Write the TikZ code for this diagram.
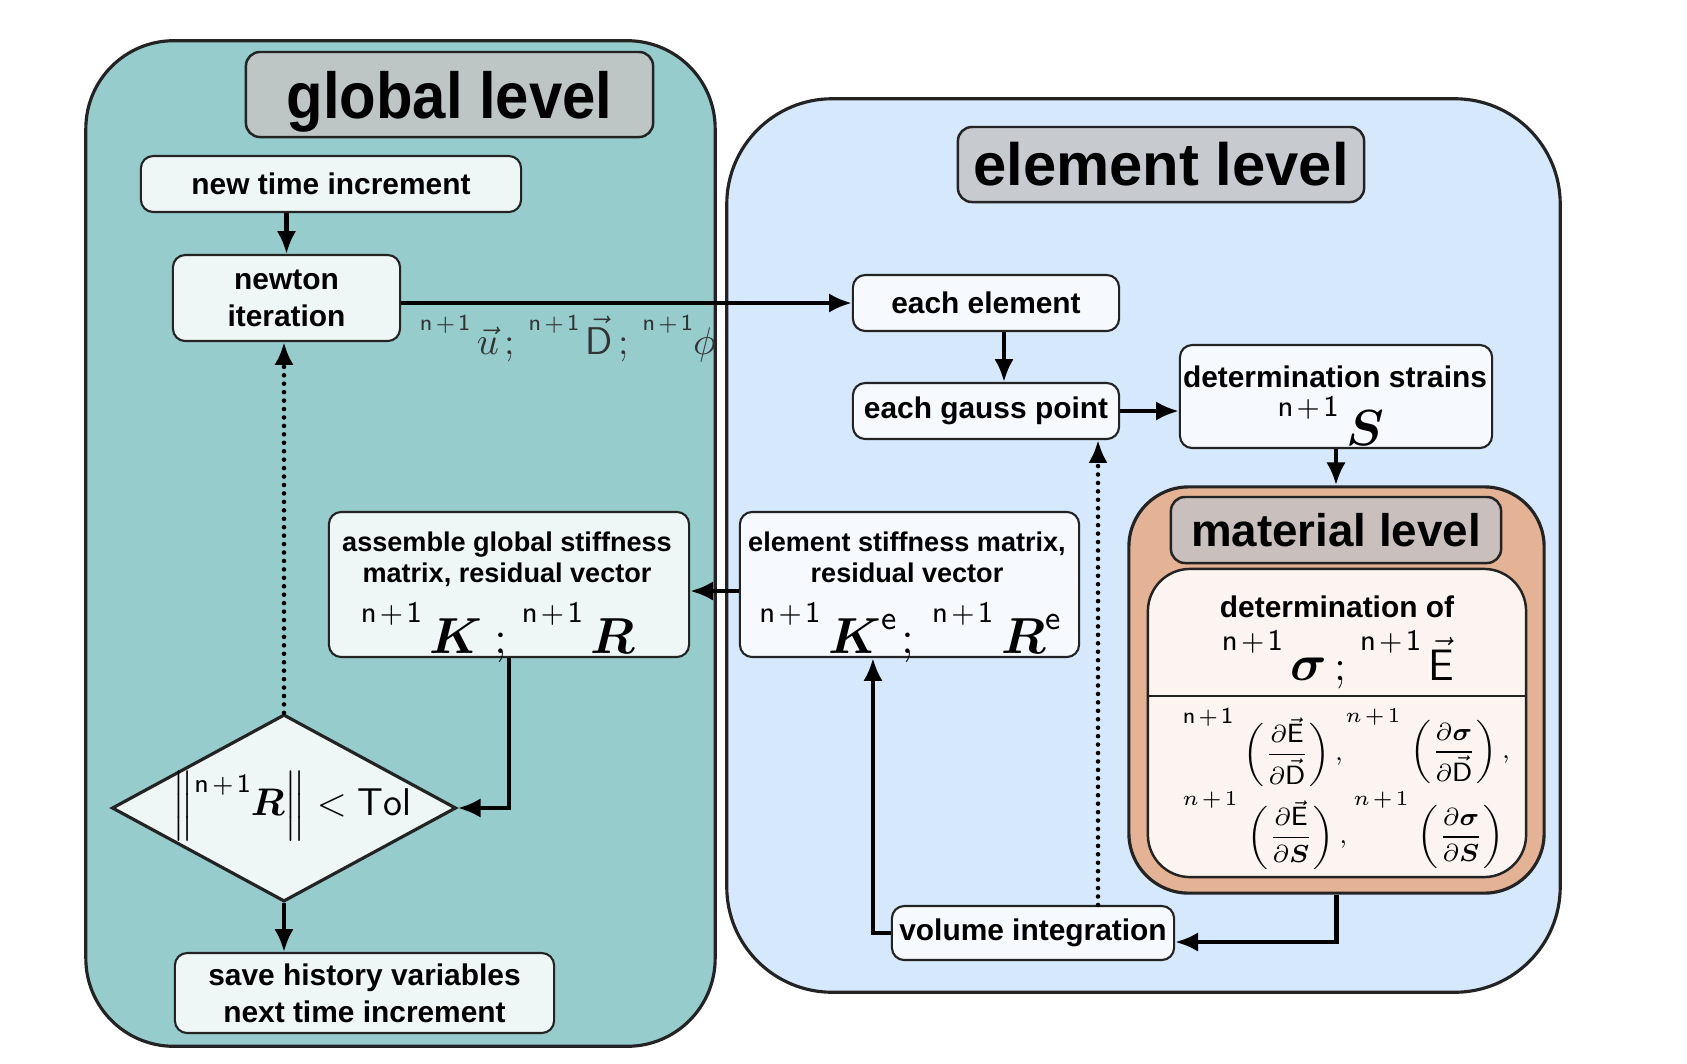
\documentclass[tikz,border=0pt]{standalone}
\usepackage{amsmath}
\usepackage{amssymb}
\usepackage{fontspec}
\usetikzlibrary{%
	arrows.meta,%
	shapes.geometric%
}
\newfontfamily\boxfont{Liberation Sans}
\newfontfamily\lvlfont[FakeStretch=0.92]{Liberation Sans}
\definecolor{edge}{RGB}{35,35,35}
\definecolor{global-teal}{RGB}{151,204,204}
\definecolor{element-blue}{RGB}{213,232,252}
\definecolor{material-salmon}{RGB}{228,178,148}
\definecolor{global-title}{RGB}{190,197,197}
\definecolor{element-title}{RGB}{199,203,208}
\definecolor{material-title}{RGB}{201,192,189}
\definecolor{global-box}{RGB}{238,246,246}
\definecolor{element-box}{RGB}{246,249,254}
\definecolor{material-box}{RGB}{251,244,240}

% n+1 in sans, raised in front of a symbol
\newcommand{\npo}[1]{{\fontsize{#1}{#1}\selectfont$\mathsf{n\mkern2mu{+}\mkern2mu1}$}}
\newcommand{\nlead}[3]{\raisebox{#1}{\npo{#2}}\,#3}

\begin{document}
\begin{tikzpicture}[x=0.01cm,y=-0.01cm,
	panel/.style={draw=edge,line width=0.9pt},
	lvltitle/.style={draw=edge,line width=0.7pt,rounded corners=4pt,inner sep=0pt,
		font=\lvlfont\bfseries\fontsize{18.5}{20}\selectfont},
	stepbox/.style={draw=edge,line width=0.6pt,rounded corners=3.5pt,inner sep=0pt,align=center,
		font=\boxfont\bfseries\fontsize{8.5}{10.5}\selectfont},
	boxtext/.style={inner sep=0pt,align=center,font=\boxfont\bfseries\fontsize{8.5}{8.8}\selectfont},
	flow/.style={-{Latex[length=6.5pt,width=5.5pt]},line width=1.2pt},
	loopback/.style={-{Latex[length=6.5pt,width=5.5pt]},line width=1.3pt,line cap=round,
		dash pattern=on 0pt off 2.4pt},
	deriv/.style={font=\fontsize{7.5}{9}\selectfont,inner sep=0pt,anchor=west},
	derivsup/.style={font=\fontsize{6.5}{7}\selectfont,inner sep=0pt}
	]
	\useasboundingbox (0,0) rectangle (1687,1063);

	% Levels
	\node[panel,fill=global-teal,rounded corners=25pt,minimum width=6.29cm,minimum height=10.05cm] (global) at (400.5,543.5) {};
	\node[panel,fill=element-blue,rounded corners=30pt,minimum width=8.33cm,minimum height=8.93cm] (element) at (1143.5,545.5) {};
	\node[panel,fill=material-salmon,rounded corners=17pt,minimum width=4.15cm,minimum height=4.06cm] (material) at (1336.5,690) {};

	\node[lvltitle,fill=global-title,minimum width=4.07cm,minimum height=0.85cm,text depth=0pt] (globaltitle) at (449.5,94.5) {global level};
	\node[lvltitle,fill=element-title,minimum width=4.06cm,minimum height=0.75cm,
		font=\boxfont\bfseries\fontsize{17}{18}\selectfont] (elementtitle) at (1161,164.5) {element level};
	\node[lvltitle,fill=material-title,minimum width=3.30cm,minimum height=0.66cm,
		font=\boxfont\bfseries\fontsize{13}{14}\selectfont] (materialtitle) at (1336,530) {material level};

	% Global level
	\node[stepbox,fill=global-box,minimum width=3.80cm,minimum height=0.56cm] (ntime) at (331,184) {new time increment};
	\node[stepbox,fill=global-box,minimum width=2.27cm,minimum height=0.86cm] (newton) at (286.5,298) {newton\\iteration};
	\node[stepbox,fill=global-box,minimum width=3.60cm,minimum height=1.45cm] (asm) at (509,584.5) {};
	\node[boxtext,anchor=north,font=\boxfont\bfseries\fontsize{7.7}{8.8}\selectfont] (asmtxt) at (507,531)
		{assemble global stiffness\\matrix, residual vector};
	\node[inner sep=0pt,anchor=base,font=\fontsize{13.5}{14}\selectfont] (asmvar) at (498,653)
		{\nlead{8.8pt}{8.5}{$\boldsymbol{K}$}\hspace{3.5pt};\hspace{4pt}\nlead{8.8pt}{8.5}{$\boldsymbol{R}$}};
	\node[diamond,draw=edge,line width=0.9pt,fill=global-box,minimum width=3.44cm,minimum height=1.87cm,
		inner sep=0pt] (dia) at (284,808) {};
	\node[inner sep=0pt,font=\fontsize{11}{12}\selectfont] (diatxt) at (292,806)
		{$\Big\|\raisebox{6.5pt}{\npo{7.5}}\boldsymbol{R}\Big\| < {\textstyle\mathsf{Tol}}$};
	\node[stepbox,fill=global-box,minimum width=3.79cm,minimum height=0.80cm] (save) at (364.5,993) {save history variables\\next time increment};

	% Element level
	\node[stepbox,fill=element-box,minimum width=2.66cm,minimum height=0.56cm] (eachel) at (986,303) {each element};
	\node[stepbox,fill=element-box,minimum width=2.66cm,minimum height=0.56cm] (gauss) at (986,411) {each gauss point};
	\node[stepbox,fill=element-box,minimum width=3.12cm,minimum height=1.03cm] (strains) at (1336,396.5) {};
	\node[boxtext,anchor=base] (strainstxt) at (1335,387) {determination strains};
	\node[inner sep=0pt,anchor=base,font=\fontsize{13.8}{14}\selectfont] (strainsvar) at (1331,445)
		{\nlead{8pt}{8.5}{$\boldsymbol{S}$}};
	\node[stepbox,fill=element-box,minimum width=3.39cm,minimum height=1.45cm] (elstiff) at (909.5,584.5) {};
	\node[boxtext,anchor=north,font=\boxfont\bfseries\fontsize{7.7}{8.8}\selectfont] (elstifftxt) at (907,531)
		{element stiffness matrix,\\residual vector};
	\node[inner sep=0pt,anchor=base,font=\fontsize{13.5}{14}\selectfont] (elstiffvar) at (911,653)
		{\nlead{8.8pt}{8.5}{$\boldsymbol{K}^{\mathsf{e}}$}\hspace{1pt};\hspace{5pt}\nlead{8.8pt}{8.5}{$\boldsymbol{R}^{\mathsf{e}}$}};
	\node[stepbox,fill=element-box,minimum width=2.82cm,minimum height=0.54cm] (volint) at (1033,933) {volume integration};

	% Material level
	\node[draw=edge,line width=0.7pt,fill=material-box,rounded corners=12pt,minimum width=3.78cm,minimum height=3.08cm] (detof) at (1337,723) {};
	\draw[edge,line width=0.7pt] (detof.west |- 0,696) -- (detof.east |- 0,696);
	\node[boxtext,anchor=base] (detoftxt) at (1337,617) {determination of};
	\node[inner sep=0pt,anchor=base,font=\fontsize{12.5}{13}\selectfont] (detofvar) at (1338,680)
		{\nlead{8.3pt}{8.5}{{\fontsize{15}{15}\selectfont$\boldsymbol{\sigma}$}}\hspace{2pt};\hspace{4pt}\nlead{8.3pt}{8.5}{$\vec{\mathsf{E}}$}};

	\node[derivsup] (dEDsup) at (1208,717) {\npo{6.5}};
	\node[deriv] (dED) at (1243,752) {$\biggl(\dfrac{\partial\vec{\mathsf{E}}}{\partial\vec{\mathsf{D}}}\biggr)\,,$};
	\node[derivsup] (dsDsup) at (1373,717) {$n\mkern2mu{+}\mkern2mu1$};
	\node[deriv] (dsD) at (1410,752) {$\biggl(\dfrac{\partial\boldsymbol{\sigma}}{\partial\vec{\mathsf{D}}}\biggr)\,,$};
	\node[derivsup] (dESsup) at (1210,800) {$n\mkern2mu{+}\mkern2mu1$};
	\node[deriv] (dES) at (1247,835) {$\biggl(\dfrac{\partial\vec{\mathsf{E}}}{\partial\boldsymbol{S}}\biggr)\,,$};
	\node[derivsup] (dsSsup) at (1381,800) {$n\mkern2mu{+}\mkern2mu1$};
	\node[deriv] (dsS) at (1417,837) {$\biggl(\dfrac{\partial\boldsymbol{\sigma}}{\partial\boldsymbol{S}}\biggr)$};

	% Arrows
	\draw[flow] (newton.north |- ntime.south) -- (newton.north);
	\draw[flow] (newton.east |- eachel.west) -- (eachel.west);
	\node[inner sep=0pt,anchor=base,text=black!80,font=\fontsize{11}{12}\selectfont] (statevars) at (568,354)
		{\nlead{6.7pt}{6.5}{$\vec{u}$}\hspace{1.5pt};\hspace{4pt}\nlead{6.7pt}{6.5}{$\vec{\mathsf{D}}$}\hspace{1.5pt};\hspace{4pt}\raisebox{6.7pt}{\npo{6.5}}$\phi$};
	\draw[flow] ([xshift=0.18cm]eachel.south) -- ([xshift=0.18cm]gauss.north);
	\draw[flow] (gauss.east) -- (gauss.east -| strains.west);
	\draw[flow] (strains.south) -- (strains.south |- material.north);
	\draw[flow] (material.south) |- ([yshift=-0.09cm]volint.east);
	\draw[flow] (volint.west) -| ([xshift=-0.365cm]elstiff.south);
	\draw[flow] ([yshift=-0.065cm]elstiff.west) -- ([yshift=-0.065cm]asm.east);
	\draw[flow] (asm.south) |- (dia.east);
	\draw[flow] (dia.south) -- (dia.south |- save.north);

	% Back to newton iteration / next gauss point
	\draw[loopback] (dia.north) -- (dia.north |- newton.south);
	\draw[loopback] ([xshift=0.65cm]volint.north) -- ([xshift=0.65cm]volint.north |- gauss.south);
\end{tikzpicture}
\end{document}
